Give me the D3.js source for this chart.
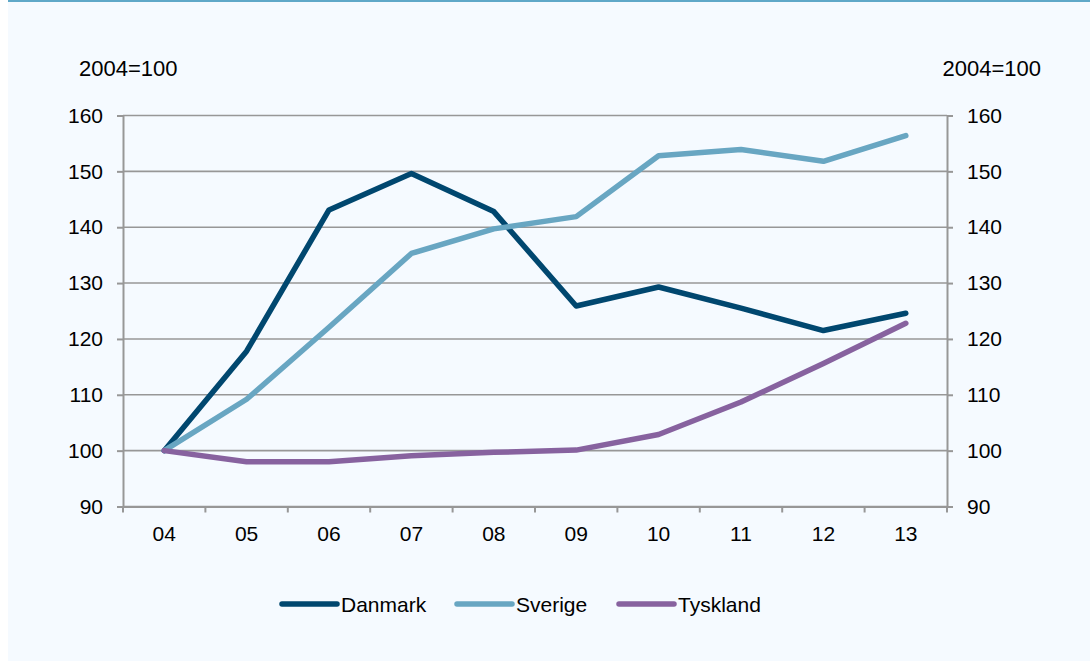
<!DOCTYPE html>
<html>
<head>
<meta charset="utf-8">
<script src="https://cdn.jsdelivr.net/npm/d3@7"></script>
<style>
  body { margin: 0; background: #ffffff; }
  svg { display: block; }
  .tick text { font-family: "Liberation Sans", Arial, sans-serif; font-size: 21px; fill: #000; }
</style>
</head>
<body>
<div id="chart"></div>
<script>
// chart data
var years = ["04", "05", "06", "07", "08", "09", "10", "11", "12", "13"];
var danmark = [100, 117.8, 143.1, 149.6, 142.8, 125.9, 129.3, 125.5, 121.5, 124.6];
var sverige = [100, 109.2, 122.1, 135.3, 139.7, 141.9, 152.8, 153.9, 151.8, 156.4];
var tyskland = [100, 98.0, 98.0, 99.1, 99.7, 100.1, 102.9, 108.7, 115.6, 122.8];
var yTicks = [90, 100, 110, 120, 130, 140, 150, 160];
var seriesNames = ["Danmark", "Sverige", "Tyskland"];
var unitLabel = "2004=100";

var colors = {"Danmark": "#00476f", "Sverige": "#68a6c2", "Tyskland": "#87629f"};
var seriesData = {"Danmark": danmark, "Sverige": sverige, "Tyskland": tyskland};

var svg_width = 1090, svg_height = 662;
var margin = {top: 115.5, right: 143, bottom: 155.5, left: 123};
var width = svg_width - margin.left - margin.right;
var height = svg_height - margin.top - margin.bottom;
var font = '"Liberation Sans", Arial, sans-serif';

var svg = d3.select("#chart").append("svg")
    .attr("width", svg_width)
    .attr("height", svg_height);

// panel background + top rule
svg.append("rect")
    .attr("x", 8).attr("y", 0)
    .attr("width", svg_width - 8).attr("height", svg_height - 1)
    .attr("fill", "#f5faff");
svg.append("rect")
    .attr("x", 8).attr("y", 0)
    .attr("width", svg_width - 8).attr("height", 2)
    .attr("fill", "#5fa8c8");

var g = svg.append("g")
    .attr("transform", "translate(" + margin.left + "," + margin.top + ")");

var x = d3.scaleBand().domain(years).range([0, width]).padding(0);
var y = d3.scaleLinear().domain([90, 160]).range([height, 0]);

// gridlines
g.append("g")
    .selectAll("line")
    .data(yTicks)
    .enter().append("line")
    .attr("x1", 0).attr("x2", width)
    .attr("y1", function(d) { return y(d); })
    .attr("y2", function(d) { return y(d); })
    .attr("stroke", "#979797")
    .attr("stroke-width", 1.6);

// left axis
var yLeft = g.append("g")
    .call(d3.axisLeft(y).tickValues(yTicks).tickSize(6).tickPadding(14));
// right axis
var yRight = g.append("g")
    .attr("transform", "translate(" + width + ",0)")
    .call(d3.axisRight(y).tickValues(yTicks).tickSize(6).tickPadding(14));

// bottom axis: labels at centers, ticks on band edges
var xAxis = g.append("g")
    .attr("transform", "translate(0," + height + ")")
    .call(d3.axisBottom(x).tickSize(0).tickPadding(20));

var edges = years.map(function(d) { return x(d); }).concat([x.range()[1]]);
xAxis.selectAll(".edge")
    .data(edges)
    .enter().append("line")
    .attr("class", "edge")
    .attr("x1", function(d) { return d; })
    .attr("x2", function(d) { return d; })
    .attr("y1", 0).attr("y2", 6)
    .attr("stroke", "#979797")
    .attr("stroke-width", 2);

[yLeft, yRight, xAxis].forEach(function(a) {
    a.select(".domain").attr("stroke", "#979797").attr("stroke-width", 2);
    a.selectAll(".tick line").attr("stroke", "#979797").attr("stroke-width", 2);
});

// lines
var line = d3.line()
    .x(function(d, i) { return x(years[i]) + x.bandwidth() / 2; })
    .y(function(d) { return y(d); });

seriesNames.forEach(function(name) {
    g.append("path")
        .datum(seriesData[name])
        .attr("fill", "none")
        .attr("stroke", colors[name])
        .attr("stroke-width", 5.5)
        .attr("stroke-linejoin", "round")
        .attr("stroke-linecap", "round")
        .attr("d", line);
});

// unit labels
svg.append("text")
    .attr("x", 79).attr("y", 75.5)
    .attr("font-family", font).attr("font-size", 22)
    .text(unitLabel);
svg.append("text")
    .attr("x", 1041).attr("y", 75.5)
    .attr("text-anchor", "end")
    .attr("font-family", font).attr("font-size", 22)
    .text(unitLabel);

// legend
var legendX = [282, 457, 619];
var legend = svg.append("g");
seriesNames.forEach(function(name, i) {
    legend.append("line")
        .attr("x1", legendX[i]).attr("x2", legendX[i] + 55)
        .attr("y1", 604).attr("y2", 604)
        .attr("stroke", colors[name])
        .attr("stroke-width", 5.5)
        .attr("stroke-linecap", "round");
    legend.append("text")
        .attr("x", legendX[i] + 59).attr("y", 611.5)
        .attr("font-family", font).attr("font-size", 21)
        .text(name);
});
</script>
</body>
</html>
